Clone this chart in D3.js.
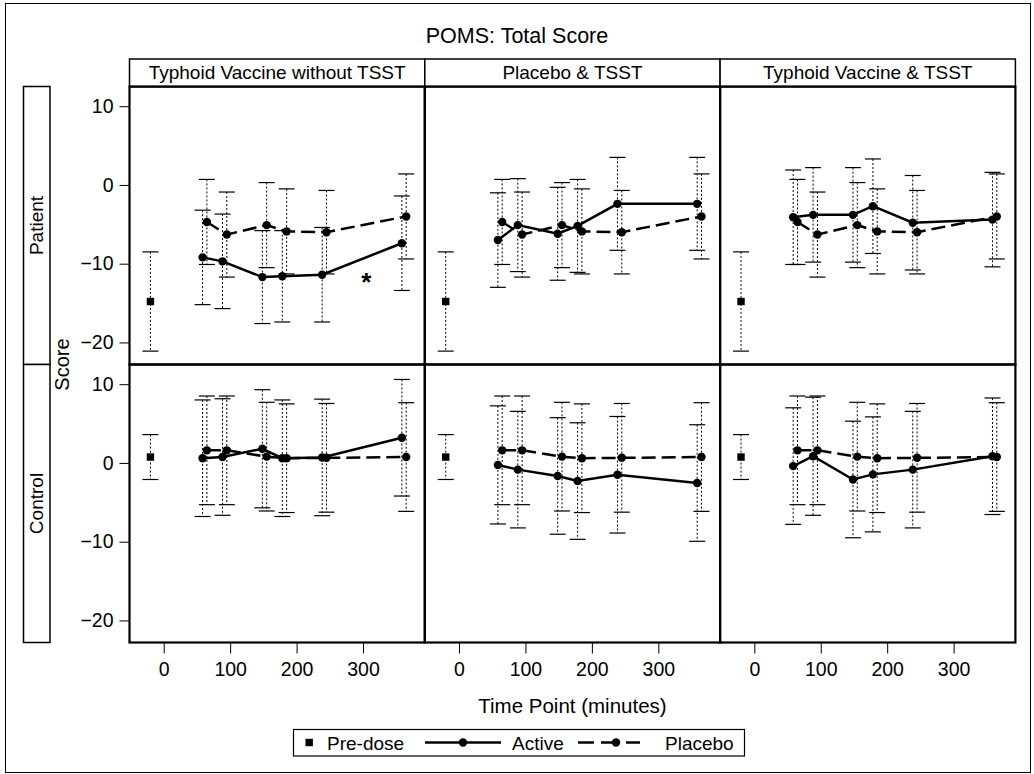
<!DOCTYPE html>
<html><head><meta charset="utf-8">
<script src="https://cdn.jsdelivr.net/npm/d3@7"></script>
<style>
body{margin:0;background:#fff;}
text{font-family:"Liberation Sans",Arial,sans-serif;fill:#000;}
</style>
</head><body>
<svg id="chart" width="1034" height="774"></svg>
<script>
// ---------------- DATA ----------------
const title = "POMS: Total Score";
const columns = ["Typhoid Vaccine without TSST", "Placebo & TSST", "Typhoid Vaccine & TSST"];
const rows = ["Patient", "Control"];
const timePoints = [60, 90, 150, 180, 240, 360];
const preDoseTime = -20;
const xTicks = [0, 100, 200, 300];
const yTicks = [10, 0, -10, -20];

// Pre-dose (same in every column of a row): mean and half-width of error bar
const preDoseMean = [-14.8, 0.75];
const preDoseErr = [6.3, 2.85];

// Placebo reference (same in every column of a row)
const placeboPatient = [-4.7, -6.3, -5.1, -5.9, -6.0, -4.0];
const placeboPatientErr = [5.4, 5.4, 5.4, 5.4, 5.3, 5.4];
const placeboControl = [1.6, 1.6, 0.8, 0.6, 0.65, 0.75];
const placeboControlErr = [6.9, 6.9, 6.9, 6.9, 6.9, 6.9];

// Active, Patient row
const activePatientTyphoidNoTSST = [-9.2, -9.7, -11.7, -11.6, -11.4, -7.4];
const activePatientPlaceboTSST = [-7.0, -5.1, -6.2, -5.2, -2.4, -2.4];
const activePatientTyphoidTSST = [-4.1, -3.8, -3.8, -2.7, -4.8, -4.4];
const activePatientErrNoTSST = [6.0, 6.0, 5.9, 5.8, 6.0, 6.0];
const activePatientErrPlaceboTSST = [6.0, 5.9, 5.9, 5.9, 5.9, 5.9];
const activePatientErrTyphoidTSST = [6.0, 6.0, 6.0, 6.0, 6.0, 6.0];

// Active, Control row
const activeControlTyphoidNoTSST = [0.6, 0.75, 1.8, 0.6, 0.7, 3.2];
const activeControlPlaceboTSST = [-0.25, -0.85, -1.65, -2.3, -1.5, -2.55];
const activeControlTyphoidTSST = [-0.4, 0.85, -2.1, -1.45, -0.85, 0.85];
const activeControlErrNoTSST = [7.4, 7.4, 7.5, 7.4, 7.4, 7.4];
const activeControlErrPlaceboTSST = [7.5, 7.4, 7.4, 7.4, 7.4, 7.4];
const activeControlErrTyphoidTSST = [7.4, 7.5, 7.4, 7.3, 7.4, 7.4];

// Significance annotation (row, column, time, score)
const annotations = [{row: 0, col: 0, time: 305, score: -11.5, label: "*"}];

const legendLabels = ["Pre-dose", "Active", "Placebo"];

// ------------- assemble -------------
const activeByPanel = [
  [activePatientTyphoidNoTSST, activePatientPlaceboTSST, activePatientTyphoidTSST],
  [activeControlTyphoidNoTSST, activeControlPlaceboTSST, activeControlTyphoidTSST]
];
const activeErrByPanel = [
  [activePatientErrNoTSST, activePatientErrPlaceboTSST, activePatientErrTyphoidTSST],
  [activeControlErrNoTSST, activeControlErrPlaceboTSST, activeControlErrTyphoidTSST]
];
const placeboByRow = [placeboPatient, placeboControl];
const placeboErrByRow = [placeboPatientErr, placeboControlErr];

// ------------- layout -------------
const svg = d3.select("#chart");
const panelLeft = 129.5, panelW = 295.3;
const panelTop = 86.5, rowH = 278;
const activeOffset = -1.5, placeboOffset = 5;
const fontTick = 19.5;

svg.append("rect").attr("x", 5.5).attr("y", 3.5).attr("width", 1025).attr("height", 769)
  .attr("fill", "#fff").attr("stroke", "#000").attr("stroke-width", 1);

svg.append("text").attr("x", 517).attr("y", 43).attr("text-anchor", "middle")
  .style("font-size", "21.5px").text(title);

const xScales = columns.map((c, i) => d3.scaleLinear().domain([-51.5, 393])
  .range([panelLeft + i * panelW, panelLeft + (i + 1) * panelW]));
const yScales = rows.map((r, j) => d3.scaleLinear().domain([-22.8, 12.5])
  .range([panelTop + (j + 1) * rowH, panelTop + j * rowH]));

const capHalf = 8;

function errorBar(g, x, yc, e, y) {
  g.append("line").attr("x1", x).attr("x2", x).attr("y1", y(yc + e)).attr("y2", y(yc - e))
    .attr("stroke", "#000").attr("stroke-width", 1).attr("stroke-dasharray", "2,2");
  [yc + e, yc - e].forEach(v => {
    g.append("line").attr("x1", x - capHalf).attr("x2", x + capHalf)
      .attr("y1", y(v)).attr("y2", y(v)).attr("stroke", "#000").attr("stroke-width", 1.2);
  });
}

rows.forEach((rName, j) => {
  const y = yScales[j];
  columns.forEach((cName, i) => {
    const x = xScales[i];
    const g = svg.append("g");
    const act = activeByPanel[j][i], actE = activeErrByPanel[j][i];
    const plc = placeboByRow[j], plcE = placeboErrByRow[j];

    // error bars
    errorBar(g, x(preDoseTime), preDoseMean[j], preDoseErr[j], y);
    timePoints.forEach((t, k) => {
      errorBar(g, x(t + activeOffset), act[k], actE[k], y);
      errorBar(g, x(t + placeboOffset), plc[k], plcE[k], y);
    });

    // lines
    const lineA = d3.line().x((d, k) => x(timePoints[k] + activeOffset)).y(d => y(d));
    const lineP = d3.line().x((d, k) => x(timePoints[k] + placeboOffset)).y(d => y(d));
    g.append("path").attr("d", lineP(plc)).attr("fill", "none").attr("stroke", "#000")
      .attr("stroke-width", 2.5).attr("stroke-dasharray", "14,6");
    g.append("path").attr("d", lineA(act)).attr("fill", "none").attr("stroke", "#000")
      .attr("stroke-width", 2.5);

    // markers
    g.selectAll("circle.p").data(plc).enter().append("circle")
      .attr("cx", (d, k) => x(timePoints[k] + placeboOffset)).attr("cy", d => y(d)).attr("r", 4.2).attr("fill", "#000");
    g.selectAll("circle.a").data(act).enter().append("circle")
      .attr("cx", (d, k) => x(timePoints[k] + activeOffset)).attr("cy", d => y(d)).attr("r", 4.2).attr("fill", "#000");
    g.append("rect").attr("x", x(preDoseTime) - 3.7).attr("y", y(preDoseMean[j]) - 3.7)
      .attr("width", 7.4).attr("height", 7.4).attr("fill", "#000");

    // panel frame
    svg.append("rect").attr("x", x.range()[0]).attr("y", y.range()[1])
      .attr("width", panelW).attr("height", rowH).attr("fill", "none")
      .attr("stroke", "#000").attr("stroke-width", 2.2);
  });

  // y axis
  const ax = svg.append("g").attr("transform", `translate(${panelLeft},0)`)
    .call(d3.axisLeft(y).tickValues(yTicks).tickSize(10).tickPadding(6));
  ax.select(".domain").remove();
  ax.selectAll("line").attr("stroke", "#000");
  ax.selectAll("text").style("font-size", fontTick + "px").style("font-family", '"Liberation Sans",Arial,sans-serif').attr("fill", "#000");

  // row header box
  const y0 = y.range()[1], y1 = y.range()[0];
  svg.append("rect").attr("x", 23.5).attr("y", y0).attr("width", 26.5).attr("height", y1 - y0)
    .attr("fill", "#fff").attr("stroke", "#000").attr("stroke-width", 1.5);
  svg.append("text").attr("transform", `translate(43,${(y0 + y1) / 2}) rotate(-90)`)
    .attr("text-anchor", "middle").style("font-size", "19px").text(rName);
});

// column headers and x axes
columns.forEach((cName, i) => {
  const x = xScales[i];
  svg.append("rect").attr("x", x.range()[0]).attr("y", 59).attr("width", panelW).attr("height", panelTop - 59)
    .attr("fill", "#fff").attr("stroke", "#000").attr("stroke-width", 1.5);
  svg.append("text").attr("x", (x.range()[0] + x.range()[1]) / 2).attr("y", 79)
    .attr("text-anchor", "middle").style("font-size", "19px").text(cName);
  const ax = svg.append("g").attr("transform", `translate(0,${panelTop + 2 * rowH})`)
    .call(d3.axisBottom(x).tickValues(xTicks).tickSize(11).tickPadding(9));
  ax.select(".domain").remove();
  ax.selectAll("line").attr("stroke", "#000");
  ax.selectAll("text").style("font-size", fontTick + "px").style("font-family", '"Liberation Sans",Arial,sans-serif').attr("fill", "#000");
});
// redraw dividing lines on top of header boxes
columns.forEach((cName, i) => {
  const x = xScales[i];
  svg.append("line").attr("x1", x.range()[0]).attr("x2", x.range()[1]).attr("y1", panelTop).attr("y2", panelTop)
    .attr("stroke", "#000").attr("stroke-width", 2.2);
});

// annotations
annotations.forEach(a => {
  svg.append("text").attr("x", xScales[a.col](a.time)).attr("y", yScales[a.row](a.score) + 15)
    .attr("text-anchor", "middle").style("font-size", "26px").style("font-weight", "bold").text(a.label);
});

// axis titles
svg.append("text").attr("transform", `translate(69,${panelTop + rowH}) rotate(-90)`)
  .attr("text-anchor", "middle").style("font-size", "20px").text("Score");
svg.append("text").attr("x", panelLeft + 1.5 * panelW).attr("y", 713)
  .attr("text-anchor", "middle").style("font-size", "20.5px").text("Time Point (minutes)");

// legend
const lg = svg.append("g");
lg.append("rect").attr("x", 293.5).attr("y", 729.5).attr("width", 451).attr("height", 26.5)
  .attr("fill", "#fff").attr("stroke", "#000").attr("stroke-width", 1.2);
const ly = 742.5;
lg.append("rect").attr("x", 305.5).attr("y", ly - 3.7).attr("width", 7.4).attr("height", 7.4).attr("fill", "#000");
lg.append("text").attr("x", 327).attr("y", ly + 7).style("font-size", "19px").text(legendLabels[0]);
lg.append("line").attr("x1", 425).attr("x2", 501).attr("y1", ly).attr("y2", ly).attr("stroke", "#000").attr("stroke-width", 2.5);
lg.append("circle").attr("cx", 463).attr("cy", ly).attr("r", 4.2).attr("fill", "#000");
lg.append("text").attr("x", 512).attr("y", ly + 7).style("font-size", "19px").text(legendLabels[1]);
lg.append("line").attr("x1", 578).attr("x2", 640).attr("y1", ly).attr("y2", ly).attr("stroke", "#000")
  .attr("stroke-width", 2.5).attr("stroke-dasharray", "16,7,18,7,16");
lg.append("circle").attr("cx", 616).attr("cy", ly).attr("r", 4.2).attr("fill", "#000");
lg.append("text").attr("x", 665).attr("y", ly + 7).style("font-size", "19px").text(legendLabels[2]);
</script>
</body></html>
